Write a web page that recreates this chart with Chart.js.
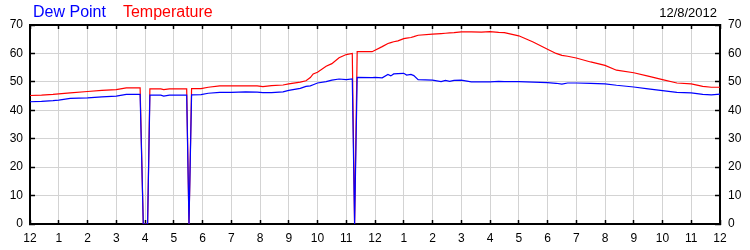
<!DOCTYPE html>
<html>
<head>
<meta charset="utf-8">
<script src="https://cdn.jsdelivr.net/npm/chart.js@4.4.1/dist/chart.umd.min.js"></script>
<style>
  html, body { margin: 0; padding: 0; background: #fff; }
  #wrap { width: 750px; height: 250px; }
</style>
</head>
<body>
<div id="wrap"><canvas id="weather"></canvas></div>
<script>
// hours since midnight, 12/8/2012
var hours = [0, 0.4, 0.8, 1.0, 1.4, 2.0, 2.5, 3.0, 3.35, 3.83, 3.94, 4.09, 4.17, 4.55, 4.65, 4.85,
    5.45, 5.53, 5.62, 5.95, 6.2, 6.6, 7.0, 7.5, 7.9, 8.1, 8.4, 8.8, 9.0, 9.4, 9.6, 9.75, 9.85,
    10.0, 10.3, 10.5, 10.75, 11.0, 11.21, 11.29, 11.38, 11.9, 12.0, 12.25, 12.45, 12.55, 12.65,
    12.8, 13.0, 13.1, 13.25, 13.35, 13.5, 14.0, 14.3, 14.45, 14.6, 14.75, 15.0, 15.35, 15.7,
    16.0, 16.3, 16.5, 17.0, 17.5, 18.0, 18.3, 18.5, 18.7, 19.0, 19.5, 20.0, 20.4, 21.0, 21.5,
    22.0, 22.5, 23.0, 23.4, 23.7, 24.0];

var temperature = [45.2, 45.3, 45.6, 45.8, 46.1, 46.6, 47.0, 47.3, 47.9, 47.9, 0, 0, 47.5, 47.5, 47.3, 47.5,
    47.5, 0, 47.6, 47.6, 48.1, 48.6, 48.6, 48.6, 48.6, 48.3, 48.7, 48.9, 49.3, 49.9, 50.4, 51.5, 52.8,
    53.4, 55.5, 56.4, 58.5, 59.6, 60.0, 0, 60.6, 60.6, 61.1, 62.4, 63.5, 63.8, 64.1,
    64.4, 65.2, 65.4, 65.6, 65.9, 66.4, 66.8, 67.0, 67.1, 67.2, 67.3, 67.6, 67.6, 67.5,
    67.7, 67.4, 67.3, 66.2, 64.0, 61.5, 60.0, 59.3, 59.0, 58.4, 57.0, 55.8, 54.1, 53.2, 52.0,
    50.8, 49.6, 49.3, 48.4, 48.1, 48.1];

var dewPoint = [43.0, 43.1, 43.4, 43.6, 44.2, 44.4, 44.7, 45.0, 45.6, 45.6, 0, 0, 45.3, 45.3, 45.0, 45.3,
    45.3, 0, 45.4, 45.5, 46.0, 46.3, 46.3, 46.5, 46.4, 46.2, 46.2, 46.5, 47.0, 47.7, 48.4, 48.6, 49.0,
    49.6, 50.1, 50.6, 51.0, 50.8, 51.0, 0, 51.6, 51.5, 51.6, 51.4, 52.6, 52.1, 52.8,
    52.9, 53.0, 52.4, 52.6, 52.2, 50.8, 50.6, 50.1, 50.5, 50.2, 50.5, 50.6, 50.0, 50.0,
    50.0, 50.2, 50.1, 50.1, 49.9, 49.7, 49.5, 49.2, 49.6, 49.6, 49.5, 49.3, 48.8, 48.2, 47.5,
    46.9, 46.3, 46.1, 45.6, 45.4, 45.7];

var tickLabels = ['12', '1', '2', '3', '4', '5', '6', '7', '8', '9', '10', '11',
    '12', '1', '2', '3', '4', '5', '6', '7', '8', '9', '10', '11', '12'];

var dateLabel = '12/8/2012';

function points(values) {
    return hours.map(function (h, i) { return { x: h, y: values[i] }; });
}

var tickFont = { family: 'Liberation Sans, Arial, sans-serif', size: 12 };
var gridColor = '#d3d3d3';

// legend text + date along the top edge
var headerText = {
    id: 'headerText',
    afterDraw: function (chart) {
        var c = chart.ctx;
        c.save();
        c.textBaseline = 'alphabetic';
        c.textAlign = 'left';
        c.font = '16px Liberation Sans, Arial, sans-serif';
        var x = 33;
        chart.data.datasets.forEach(function (ds) {
            c.fillStyle = ds.borderColor;
            c.fillText(ds.label, x, 17);
            x += c.measureText(ds.label).width + 17;
        });
        c.font = '13px Liberation Sans, Arial, sans-serif';
        c.fillStyle = '#000';
        c.textAlign = 'right';
        c.fillText(dateLabel, 717, 17);
        c.restore();
    }
};

var ctx = document.getElementById('weather').getContext('2d');
var myChart = new Chart(ctx, {
    type: 'line',
    data: {
        datasets: [{
            label: 'Dew Point',
            data: points(dewPoint),
            borderColor: 'rgb(0, 0, 255)',
            borderWidth: 1.2,
            pointRadius: 0,
            tension: 0
        }, {
            label: 'Temperature',
            data: points(temperature),
            borderColor: 'rgb(255, 0, 0)',
            borderWidth: 1.2,
            pointRadius: 0,
            tension: 0
        }]
    },
    options: {
        responsive: true,
        maintainAspectRatio: false,
        animation: false,
        layout: { padding: { top: 25 } },
        plugins: {
            legend: { display: false },
            tooltip: { enabled: false }
        },
        scales: {
            x: {
                type: 'linear',
                position: 'bottom',
                min: 0,
                max: 24,
                ticks: {
                    stepSize: 1,
                    color: '#000',
                    font: tickFont,
                    padding: 11,
                    maxRotation: 0,
                    autoSkip: false,
                    callback: function (v) { return tickLabels[v]; }
                },
                grid: { color: gridColor, tickColor: '#000', tickLength: -4, tickWidth: 1.5 },
                border: { color: '#000', width: 2 },
                afterFit: function (s) { s.height = 26; }
            },
            xTop: {
                type: 'linear',
                position: 'top',
                min: 0,
                max: 24,
                ticks: { stepSize: 1, display: false },
                grid: { drawOnChartArea: false, tickColor: '#000', tickLength: -4, tickWidth: 1.5 },
                border: { color: '#000', width: 2 },
                afterFit: function (s) { s.height = 0; }
            },
            y: {
                position: 'left',
                min: 0,
                max: 70,
                ticks: { stepSize: 10, color: '#000', font: tickFont, padding: 12 },
                grid: { color: gridColor, tickColor: '#000', tickLength: -5, tickWidth: 1.5 },
                border: { color: '#000', width: 2 },
                afterFit: function (s) { s.width = 30; }
            },
            yRight: {
                position: 'right',
                min: 0,
                max: 70,
                ticks: { stepSize: 10, color: '#000', font: tickFont, padding: 13 },
                grid: { drawOnChartArea: false, tickColor: '#000', tickLength: -5, tickWidth: 1.5 },
                border: { color: '#000', width: 2 },
                afterFit: function (s) { s.width = 30; }
            }
        }
    },
    plugins: [headerText]
});
</script>
</body>
</html>
